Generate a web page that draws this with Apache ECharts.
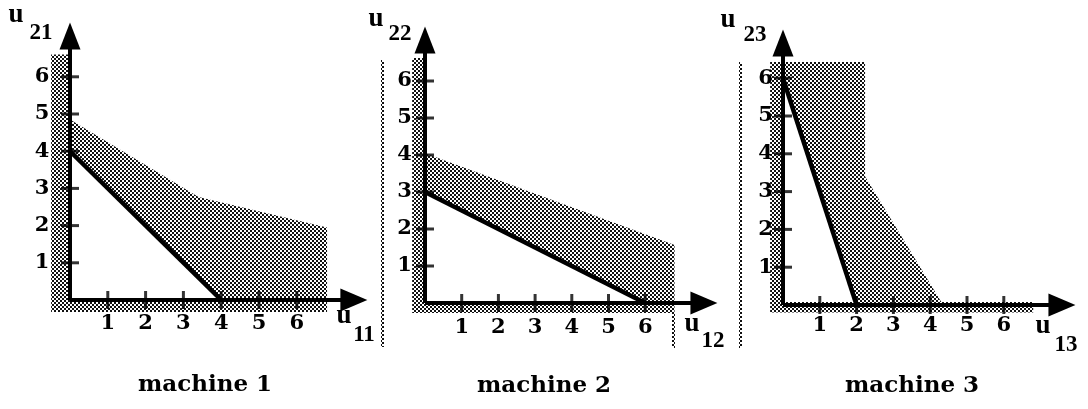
<!DOCTYPE html>
<html>
<head>
<meta charset="utf-8">
<script src="https://cdn.jsdelivr.net/npm/echarts@6/dist/echarts.min.js"></script>
<style>
  html, body { margin: 0; padding: 0; background: #fff; }
  #chart { width: 1088px; height: 409px; }
</style>
</head>
<body>
<div id="chart"></div>
<script>
// tick values on both axes of every panel
const xTicks = [1, 2, 3, 4, 5, 6];
const yTicks = [1, 2, 3, 4, 5, 6];

// capacity line of each machine (u1j, u2j)
const capLine1 = [[0, 4], [4, 0]];
const capLine2 = [[0, 3], [6, 0]];
const capLine3 = [[0, 6], [2, 0]];

// shaded regions, as polygons in axis units
const shade1 = [
  [[-0.5, -0.32], [0, -0.32], [0, 6.6], [-0.5, 6.6]],
  [[0, -0.32], [6.8, -0.32], [6.8, 0], [0, 0]],
  [[0, 4], [0, 4.85], [3.4, 2.77], [6.8, 1.95], [6.8, 0], [4, 0]]
];
const shade2 = [
  [[-0.35, -0.27], [0, -0.27], [0, 6.62], [-0.35, 6.62]],
  [[0, -0.27], [6.8, -0.27], [6.8, 0], [0, 0]],
  [[0, 3], [0, 4.05], [6.8, 1.57], [6.8, 0], [6, 0]]
];
const shade3 = [
  [[-0.35, -0.2], [0, -0.2], [0, 6.43], [-0.35, 6.43]],
  [[0, -0.2], [6.8, -0.2], [6.8, 0.08], [0, 0.08]],
  [[0, 6], [0, 6.43], [2.23, 6.43], [2.23, 3.4], [4.35, 0], [2, 0]]
];

const machineNames = ['machine 1', 'machine 2', 'machine 3'];
const xSubs = ['11', '12', '13'];
const ySubs = ['21', '22', '23'];

const capLines = [capLine1, capLine2, capLine3];
const shades = [shade1, shade2, shade3];

// panel geometry (origin px, px per unit, arrow ends, label offsets)
const panels = [
  { ox: 70, oy: 300, ux: 37.8, uy: 37.2, xEnd: 7.51, yEnd: 7.1, xm: -2, ym: -2,
    uy1: [16, 17], sy1: [41, 33], ux1: [344, 318], sx1: [364, 335], title: [205, 385] },
  { ox: 425, oy: 303, ux: 36.7, uy: 37, xEnd: 7.6, yEnd: 7.11, xm: -1, ym: -9,
    uy1: [376, 21], sy1: [400, 34], ux1: [692, 326], sx1: [713, 341], title: [544, 386] },
  { ox: 783, oy: 305, ux: 36.8, uy: 37.8, xEnd: 7.58, yEnd: 6.93, xm: -5, ym: -12,
    uy1: [728, 22], sy1: [755, 35], ux1: [1043, 328], sx1: [1066, 345], title: [912, 386] }
];
const X_MIN = -0.6, X_MAX = 8, Y_MIN = -0.4, Y_MAX = 7.6;

// halftone tile for the gray areas
const tile = document.createElement('canvas');
tile.width = 4; tile.height = 4;
const tc = tile.getContext('2d');
tc.fillStyle = '#fff';
tc.fillRect(0, 0, 4, 4);
tc.fillStyle = '#111';
tc.fillRect(0, 0, 2, 2);
tc.fillRect(2, 2, 2, 2);
const dots = { image: tile, repeat: 'repeat' };

const FONT = 'DejaVu Serif';
const NAME_FONT = 'Liberation Serif';

const grid = [], xAxis = [], yAxis = [], series = [], graphic = [];

panels.forEach(function (p, i) {
  grid.push({
    left: p.ox + X_MIN * p.ux,
    width: (X_MAX - X_MIN) * p.ux,
    top: p.oy - Y_MAX * p.uy,
    height: (Y_MAX - Y_MIN) * p.uy
  });
  xAxis.push({
    type: 'value', gridIndex: i, min: X_MIN, max: X_MAX, z: 10,
    axisLine: { show: false, onZero: false },
    axisTick: { show: false },
    splitLine: { show: false },
    axisLabel: {
      customValues: xTicks, margin: p.xm,
      color: '#000', fontFamily: FONT, fontWeight: 'bold', fontSize: 21
    }
  });
  yAxis.push({
    type: 'value', gridIndex: i, min: Y_MIN, max: Y_MAX, z: 10,
    axisLine: { show: false, onZero: false },
    axisTick: { show: false },
    splitLine: { show: false },
    axisLabel: {
      customValues: yTicks, margin: p.ym,
      color: '#000', fontFamily: FONT, fontWeight: 'bold', fontSize: 21
    }
  });

  // gray band between the capacity line and the outer bound
  series.push({
    type: 'custom', xAxisIndex: i, yAxisIndex: i, z: 1, silent: true,
    data: shades[i].map(function (s, k) { return [k]; }),
    renderItem: function (params, api) {
      const poly = shades[i][params.dataIndex];
      return {
        type: 'polygon',
        shape: { points: poly.map(function (pt) { return api.coord(pt); }) },
        style: { fill: dots }
      };
    }
  });

  // capacity line, plus the two axes with arrow heads
  series.push({
    type: 'line', xAxisIndex: i, yAxisIndex: i, z: 3, silent: true,
    data: capLines[i], symbol: 'none',
    lineStyle: { color: '#000', width: 4.5 },
    markLine: {
      silent: true, animation: false,
      symbol: ['none', 'triangle'],
      lineStyle: { color: '#000', width: 4, type: 'solid' },
      label: { show: false },
      data: [
        [{ coord: [0, 0], symbol: 'none' }, { coord: [p.xEnd, 0], symbol: 'triangle', symbolSize: [23, 27] }],
        [{ coord: [0, 0], symbol: 'none' }, { coord: [0, p.yEnd], symbol: 'triangle', symbolSize: [21, 27] }]
      ]
    }
  });

  // ticks crossing the axes
  series.push({
    type: 'scatter', xAxisIndex: i, yAxisIndex: i, z: 4, silent: true,
    symbol: 'rect', symbolSize: [3, 18],
    itemStyle: { color: '#000' },
    data: xTicks.map(function (v) { return [v, 0]; })
  });
  series.push({
    type: 'scatter', xAxisIndex: i, yAxisIndex: i, z: 4, silent: true,
    symbol: 'rect', symbolSize: [18, 3],
    itemStyle: { color: '#000' },
    data: yTicks.map(function (v) { return [0, v]; })
  });

  // axis names u_2j (vertical) and u_1j (horizontal)
  const txt = function (pos, s, size) {
    return {
      type: 'text', x: pos[0], y: pos[1], z: 20,
      style: {
        text: s, fill: '#000', font: 'bold ' + size + 'px "' + NAME_FONT + '"',
        textAlign: 'center', textVerticalAlign: 'middle'
      }
    };
  };
  graphic.push(txt([p.uy1[0], p.uy1[1] - 2], 'u', 27));
  graphic.push(txt(p.sy1, ySubs[i], 23));
  graphic.push(txt([p.ux1[0], p.ux1[1] - 2], 'u', 27));
  graphic.push(txt(p.sx1, xSubs[i], 23));

  graphic.push({
    type: 'text', x: p.title[0], y: p.title[1], z: 20,
    style: {
      text: machineNames[i], fill: '#000', font: 'bold 23px "' + FONT + '"',
      textAlign: 'center', textVerticalAlign: 'middle'
    }
  });
});

// dotted edges left over from the scan
graphic.push({ type: 'rect', shape: { x: 381, y: 60, width: 3, height: 287 }, style: { fill: dots } });
graphic.push({ type: 'rect', shape: { x: 672, y: 313, width: 3, height: 35 }, style: { fill: dots } });
graphic.push({ type: 'rect', shape: { x: 739, y: 62, width: 3, height: 286 }, style: { fill: dots } });

const chart = echarts.init(document.getElementById('chart'));
chart.setOption({
  animation: false,
  backgroundColor: '#fff',
  grid: grid,
  xAxis: xAxis,
  yAxis: yAxis,
  series: series,
  graphic: graphic
});
</script>
</body>
</html>
